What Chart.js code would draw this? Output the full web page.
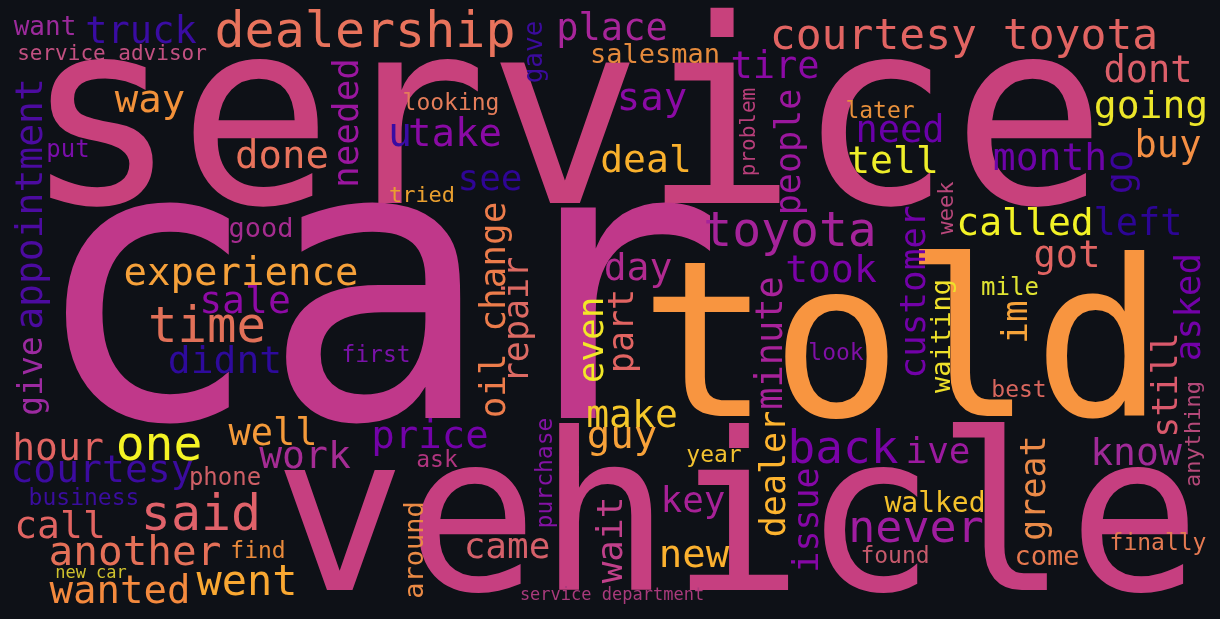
<!DOCTYPE html>
<html>
<head>
<meta charset="utf-8">
<script src="https://cdn.jsdelivr.net/npm/chart.js@4"></script>
<style>
html,body{margin:0;padding:0;background:#0e1117;}
#wrap{width:1220px;height:619px;position:relative;}
</style>
</head>
<body>
<div id="wrap"><canvas id="c"></canvas></div>
<script>
const words = ["service","car","told","vehicle","dealership","courtesy toyota","want","truck","service advisor","appointment",
"give","way","put","done","needed","u","take","gave","place","salesman",
"looking","say","tire","problem","people","deal","see","tried","dont","later",
"need","going","tell","month","buy","go","week","good","experience","sale",
"time","didnt","first","oil change","repair","day","toyota","took","even","part",
"minute","dealer","customer","waiting","called","left","got","mile","im","asked",
"still","anything","look","best","hour","one","well","work","price","courtesy",
"phone","business","said","call","another","find","new car","went","wanted","around",
"ask","purchase","make","guy","year","key","wait","came","new","service department",
"issue","back","ive","great","know","walked","never","found","come","finally"];
const xs = [565,377,902,737,365,964,45,141,112,42,
42,150,68,282,358,400,455,542,612,655,
451,652,775,755,800,646,490,422,1148,880,
900,1151,893,1050,1168,1132,953,261,241,245,
207,225,376,505,528,638,790,831,603,633,
782,785,925,950,1025,1138,1067,1010,1027,1200,
1177,1200,836,1019,58,159,273,305,430,102,
225,84,201,60,135,258,91,247,120,423,
437,552,632,622,714,693,622,507,694,612,
818,843,938,1045,1136,935,916,895,1047,1158];
const ys = [203,418,416,590,47,49,35,43,60,204,
376,112,157,168,123,146,146,52,40,63,
110,110,78,132,152,172,190,202,82,118,
142,118,173,170,157,172,208,237,285,313,
342,373,362,310,320,280,246,282,340,331,
343,474,292,336,235,235,267,295,322,307,
385,434,360,397,460,460,445,468,448,482,
485,505,530,538,565,558,578,595,603,550,
467,473,427,448,462,512,540,558,567,600,
520,463,463,488,465,512,542,563,565,550];
const weights = [257,385,218,220,50,43,26,37,21,38,
33,39,24,39,36,40,39,26,37,27,
23,39,37,21,35,38,36,22,37,23,
37,38,38,38,37,37,22,27,39,38,
49,38,23,36,35,38,48,38,36,35,
37,35,36,27,38,37,37,24,36,36,
35,22,23,23,38,48,37,38,39,38,
24,23,50,38,41,23,17,42,39,27,
23,23,38,39,23,36,36,36,39,17,
35,46,36,35,38,28,45,23,27,23];
const vertical = [0,0,0,0,0,0,0,0,0,1,
1,0,0,0,1,0,0,1,0,0,
0,0,0,1,1,0,0,0,0,0,
0,0,0,0,0,1,1,0,0,0,
0,0,0,1,1,0,0,0,1,1,
1,1,1,1,0,0,0,0,1,1,
1,1,0,0,0,0,0,0,0,0,
0,0,0,0,0,0,0,0,0,1,
0,1,0,0,0,0,1,0,0,0,
1,0,0,1,0,0,0,0,0,0];
const palette = ["#c8417c","#c0388a","#f89540","#c63f80","#e8735c","#e16462","#9c2a9c","#3a0ca3","#c25081","#4c0ba0",
"#9c2aa0","#f2913a","#7a0eaa","#e8735c","#9a169f","#3a0ca3","#8a0aa5","#3b0b9c","#a8259a","#e48a3c",
"#e57d5a","#8b0aa5","#8c0aa5","#b83f7a","#9b179e","#f9b02c","#2f0596","#e9a030","#dc5f6a","#e8903b",
"#6a00a8","#ece62a","#eeee2a","#6d03a8","#f48f44","#3a049a","#b7477a","#a52c8f","#f6a13a","#8e0aa5",
"#e17058","#2e0a9c","#7a12a8","#ec7c4b","#dc6a63","#b12a90","#a5239a","#7b02a8","#f2e827","#e16462",
"#a8229a","#fdb42f","#7201a8","#efe12a","#f2f226","#2c0595","#e16462","#dfe332","#f5a33a","#7301a8",
"#d9596c","#b5497a","#8010a6","#d9675e","#e16462","#f4f324","#f49a3a","#a52c94","#7302a8","#3c0ba0",
"#cf5f66","#3a0d9e","#e0626a","#e16462","#e57058","#e88a3c","#cfc22e","#f9a832","#f48a3e","#ea8a45",
"#b0357f","#8412a4","#f5c82b","#f8a23a","#f2c230","#a72197","#c0408a","#d5606a","#fbb12f","#a93a7c",
"#8607a6","#7b03a8","#9c1aa0","#ea8a48","#a02a98","#f4c12b","#a01da0","#c75a6c","#e6794f","#e57a52"];

const points = words.map((w,i)=>({x:xs[i], y:ys[i], w:w, s:weights[i], v:vertical[i], c:palette[i]}));

const bgPlugin = {
  id:'bg',
  beforeDraw(chart){
    const ctx = chart.ctx;
    ctx.save();
    ctx.fillStyle = '#0e1117';
    ctx.fillRect(0,0,chart.width,chart.height);
    ctx.restore();
  }
};

const wordPlugin = {
  id:'words',
  afterDatasetsDraw(chart){
    const ctx = chart.ctx;
    const sx = chart.scales.x, sy = chart.scales.y;
    const unit = Math.abs(sy.getPixelForValue(1) - sy.getPixelForValue(0));
    const ds = chart.data.datasets[0].data;
    ctx.save();
    ds.forEach(p=>{
      const px = sx.getPixelForValue(p.x);
      const py = sy.getPixelForValue(p.y);
      ctx.save();
      ctx.translate(px,py);
      if(p.v) ctx.rotate(-Math.PI/2);
      ctx.font = (p.s*unit) + 'px "DejaVu Sans Mono", monospace';
      ctx.fillStyle = p.c;
      ctx.textAlign = 'center';
      ctx.textBaseline = 'alphabetic';
      ctx.fillText(p.w,0,0);
      ctx.restore();
    });
    ctx.restore();
  }
};

new Chart(document.getElementById('c'),{
  type:'scatter',
  data:{datasets:[{data:points, pointRadius:0, pointHoverRadius:0}]},
  options:{
    responsive:true,
    maintainAspectRatio:false,
    animation:false,
    layout:{padding:0},
    plugins:{legend:{display:false},tooltip:{enabled:false}},
    scales:{
      x:{type:'linear',min:0,max:1220,display:false},
      y:{type:'linear',min:0,max:619,reverse:true,display:false}
    }
  },
  plugins:[bgPlugin, wordPlugin]
});
</script>
</body>
</html>
